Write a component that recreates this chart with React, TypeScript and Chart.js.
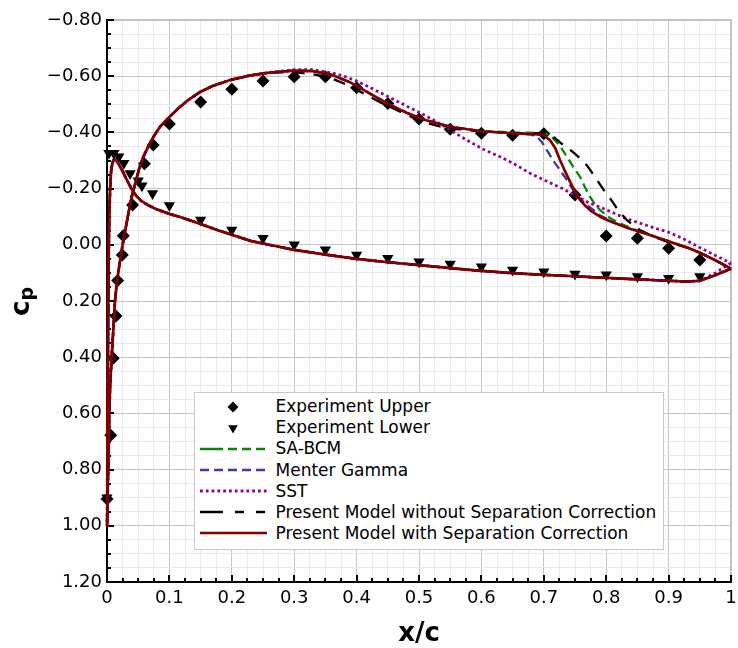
import React, { useEffect, useRef } from 'react';
import { Chart, registerables } from 'chart.js';

Chart.register(...registerables);

// ---------- Experimental data ----------
const xExpUpper = [0, 0.006, 0.010, 0.0144, 0.017, 0.0245, 0.026, 0.041, 0.06, 0.074, 0.1, 0.15, 0.2, 0.25, 0.3, 0.35, 0.4, 0.45, 0.5, 0.55, 0.6, 0.65, 0.7, 0.75, 0.8, 0.85, 0.9, 0.95];
const cpExpUpper = [0.905, 0.678, 0.404, 0.253, 0.127, 0.036, -0.032, -0.142, -0.288, -0.355, -0.43, -0.508, -0.554, -0.583, -0.598, -0.598, -0.559, -0.503, -0.448, -0.411, -0.397, -0.39, -0.395, -0.177, -0.031, -0.023, 0.0125, 0.054];

const xExpLower = [0, 0.003, 0.011, 0.019, 0.027, 0.037, 0.05, 0.056, 0.073, 0.1, 0.15, 0.2, 0.25, 0.3, 0.35, 0.4, 0.45, 0.5, 0.55, 0.6, 0.65, 0.7, 0.75, 0.8, 0.85, 0.9, 0.95];
const cpExpLower = [0.9, -0.326, -0.326, -0.313, -0.29, -0.254, -0.228, -0.21, -0.183, -0.14, -0.088, -0.053, -0.023, 0.0, 0.018, 0.036, 0.048, 0.06, 0.068, 0.078, 0.09, 0.096, 0.104, 0.107, 0.113, 0.119, 0.113];

// ---------- Computed curves ----------
// lower surface, leading edge -> x = 0.95 (shared by all models)
const xLowerSurface = [0, 0.0005, 0.001, 0.0018, 0.0027, 0.0035, 0.005, 0.0065, 0.0085, 0.0112, 0.014, 0.018, 0.025, 0.0316, 0.039, 0.047, 0.055, 0.065, 0.08, 0.1, 0.117, 0.14, 0.16, 0.18, 0.2, 0.23, 0.26, 0.3, 0.35, 0.4, 0.45, 0.5, 0.55, 0.6, 0.65, 0.7, 0.75, 0.8, 0.85, 0.9, 0.93, 0.95];
const cpLowerSurface = [1.0, 0.8, 0.55, 0.3, 0.05, -0.09, -0.2, -0.26, -0.29, -0.305, -0.302, -0.29, -0.262, -0.232, -0.2, -0.174, -0.156, -0.142, -0.126, -0.11, -0.099, -0.082, -0.066, -0.05, -0.036, -0.014, 0.0, 0.018, 0.035, 0.05, 0.062, 0.072, 0.083, 0.093, 0.101, 0.107, 0.112, 0.118, 0.123, 0.128, 0.131, 0.128];
const xLowerTail = [0.975, 1.0];
const cpLowerTail = [0.108, 0.085];
const cpLowerTailSst = [0.1, 0.065];

// upper surface, leading edge -> x = 0.26 (shared by all models)
const xUpperFront = [0, 0.001, 0.002, 0.0035, 0.005, 0.008, 0.0105, 0.0128, 0.016, 0.02, 0.025, 0.03, 0.035, 0.04, 0.045, 0.052, 0.06, 0.068, 0.076, 0.085, 0.1, 0.115, 0.13, 0.15, 0.17, 0.2, 0.23, 0.26];
const cpUpperFront = [1.0, 0.9, 0.8, 0.62, 0.5, 0.38, 0.29, 0.2, 0.13, 0.07, 0.0, -0.06, -0.12, -0.175, -0.215, -0.275, -0.322, -0.358, -0.39, -0.42, -0.455, -0.487, -0.515, -0.545, -0.566, -0.588, -0.603, -0.613];

// upper surface rear parts, per model
const xRearWithCorr = [0.3, 0.33, 0.36, 0.39, 0.42, 0.45, 0.48, 0.51, 0.55, 0.6, 0.65, 0.69, 0.7, 0.71, 0.718, 0.726, 0.734, 0.742, 0.75, 0.758, 0.766, 0.775, 0.79, 0.81, 0.838, 0.87, 0.902, 0.93, 0.95, 0.975, 1.0];
const cpRearWithCorr = [-0.62, -0.618, -0.605, -0.578, -0.54, -0.502, -0.47, -0.444, -0.42, -0.404, -0.397, -0.393, -0.39, -0.372, -0.345, -0.302, -0.262, -0.225, -0.19, -0.16, -0.14, -0.122, -0.1, -0.08, -0.057, -0.035, -0.011, 0.01, 0.028, 0.055, 0.085];

const xRearSaBcm = [0.3, 0.33, 0.36, 0.39, 0.42, 0.45, 0.48, 0.51, 0.55, 0.6, 0.65, 0.7, 0.71, 0.72, 0.728, 0.737, 0.747, 0.758, 0.766, 0.774, 0.782, 0.79, 0.806, 0.822, 0.845, 0.87, 0.902, 0.93, 0.95, 0.975, 1.0];
const cpRearSaBcm = [-0.62, -0.618, -0.605, -0.578, -0.54, -0.502, -0.47, -0.444, -0.42, -0.405, -0.4, -0.398, -0.39, -0.367, -0.345, -0.313, -0.278, -0.242, -0.205, -0.171, -0.145, -0.124, -0.095, -0.076, -0.055, -0.035, -0.011, 0.01, 0.028, 0.055, 0.085];

const xRearMenter = [0.3, 0.33, 0.36, 0.39, 0.42, 0.45, 0.48, 0.51, 0.55, 0.6, 0.65, 0.68, 0.689, 0.697, 0.705, 0.715, 0.726, 0.737, 0.747, 0.758, 0.769, 0.78, 0.79, 0.81, 0.838, 0.87, 0.902, 0.93, 0.95, 0.975, 1.0];
const cpRearMenter = [-0.62, -0.618, -0.605, -0.578, -0.54, -0.502, -0.47, -0.444, -0.42, -0.404, -0.397, -0.392, -0.385, -0.365, -0.337, -0.3, -0.266, -0.23, -0.195, -0.165, -0.142, -0.123, -0.105, -0.082, -0.057, -0.035, -0.011, 0.01, 0.028, 0.055, 0.085];

const xRearSst = [0.3, 0.33, 0.36, 0.38, 0.4, 0.425, 0.448, 0.47, 0.496, 0.51, 0.528, 0.55, 0.576, 0.603, 0.63, 0.651, 0.68, 0.705, 0.73, 0.75, 0.77, 0.8, 0.83, 0.854, 0.883, 0.9, 0.925, 0.95, 0.975, 1.0];
const cpRearSst = [-0.623, -0.623, -0.612, -0.6, -0.583, -0.556, -0.53, -0.505, -0.476, -0.46, -0.438, -0.409, -0.373, -0.34, -0.313, -0.29, -0.252, -0.226, -0.2, -0.176, -0.152, -0.125, -0.095, -0.077, -0.056, -0.045, -0.02, 0.01, 0.038, 0.065];

const xRearNoCorr = [0.2826, 0.31, 0.336, 0.36, 0.379, 0.4, 0.416, 0.44, 0.464, 0.49, 0.518, 0.54, 0.56, 0.6, 0.65, 0.699, 0.715, 0.731, 0.745, 0.758, 0.77, 0.78, 0.79, 0.798, 0.808, 0.817, 0.825, 0.833, 0.843, 0.854, 0.875, 0.897, 0.93, 0.95, 0.975, 1.0];
const cpRearNoCorr = [-0.614, -0.612, -0.605, -0.592, -0.575, -0.552, -0.533, -0.505, -0.48, -0.453, -0.43, -0.418, -0.412, -0.404, -0.398, -0.397, -0.385, -0.355, -0.333, -0.308, -0.28, -0.248, -0.215, -0.189, -0.16, -0.13, -0.108, -0.088, -0.07, -0.053, -0.03, -0.011, 0.01, 0.028, 0.055, 0.085];

// ---------- Axes ----------
const xTicksMajor = [0, 0.1, 0.2, 0.3, 0.4, 0.5, 0.6, 0.7, 0.8, 0.9, 1.0];
const xTickLabels = ['0', '0.1', '0.2', '0.3', '0.4', '0.5', '0.6', '0.7', '0.8', '0.9', '1'];
const yTicksMajor = [-0.8, -0.6, -0.4, -0.2, 0.0, 0.2, 0.4, 0.6, 0.8, 1.0, 1.2];
const yTickLabels = ['\u22120.80', '\u22120.60', '\u22120.40', '\u22120.20', '0.00', '0.20', '0.40', '0.60', '0.80', '1.00', '1.20'];
const xSubdivisions = 4;
const ySubdivisions = 4;
const xTitle = 'x/c';
const yTitleMain = 'c';
const yTitleSub = 'p';

// ---------- Series ----------
const seriesNames = [
  'Experiment Upper',
  'Experiment Lower',
  'SA-BCM',
  'Menter Gamma',
  'SST',
  'Present Model without Separation Correction',
  'Present Model with Separation Correction',
];
const colGreen = '#0a870a';
const colBlue = '#3b3ba2';
const colPurple = '#8e078e';
const colBlack = '#000000';
const colRed = '#800000';

const FONT = '"DejaVu Sans", "Noto Sans", sans-serif';

function zipPts(xs: number[], ys: number[]) {
  return xs.map((x, i) => ({ x, y: ys[i] }));
}

function loopPts(lx: number[], lcp: number[], ux: number[], ucp: number[]) {
  const pts: { x: number; y: number }[] = [];
  for (let i = lx.length - 1; i >= 0; i--) pts.push({ x: lx[i], y: lcp[i] });
  for (let i = 1; i < ux.length; i++) pts.push({ x: ux[i], y: ucp[i] });
  return pts;
}

function buildTicks(major: number[], sub: number) {
  const out: { value: number }[] = [];
  for (let i = 0; i < major.length; i++) {
    out.push({ value: major[i] });
    if (i < major.length - 1) {
      const step = (major[i + 1] - major[i]) / sub;
      for (let k = 1; k < sub; k++) out.push({ value: major[i] + k * step });
    }
  }
  return out;
}

const majorIndex = (arr: number[], v: number) => arr.findIndex((m) => Math.abs(m - v) < 1e-6);

const framePlugin = {
  id: 'frame',
  beforeDatasetsDraw(chart: any) {
    const { ctx, chartArea: a, scales } = chart;
    ctx.save();
    // top and right border
    ctx.strokeStyle = '#c2c2c2';
    ctx.lineWidth = 2;
    ctx.beginPath();
    ctx.moveTo(a.left, a.top);
    ctx.lineTo(a.right, a.top);
    ctx.lineTo(a.right, a.bottom);
    ctx.stroke();
    // inward ticks
    ctx.strokeStyle = '#000';
    ctx.lineWidth = 2;
    ctx.beginPath();
    for (const t of scales.x.ticks) {
      const px = Math.round(scales.x.getPixelForValue(t.value));
      const len = majorIndex(xTicksMajor, t.value) >= 0 ? 7 : 4;
      ctx.moveTo(px, a.bottom);
      ctx.lineTo(px, a.bottom - len);
    }
    for (const t of scales.y.ticks) {
      const py = Math.round(scales.y.getPixelForValue(t.value));
      const len = majorIndex(yTicksMajor, t.value) >= 0 ? 7 : 4;
      ctx.moveTo(a.left, py);
      ctx.lineTo(a.left + len, py);
    }
    ctx.stroke();
    ctx.restore();
  },
  afterDraw(chart: any) {
    const { ctx, chartArea: a } = chart;
    ctx.save();
    ctx.fillStyle = '#000';
    ctx.textBaseline = 'alphabetic';
    // x title
    ctx.font = `bold 26px ${FONT}`;
    ctx.textAlign = 'center';
    ctx.fillText(xTitle, (a.left + a.right) / 2, 641);
    // y title with subscript
    ctx.translate(29, 316);
    ctx.rotate(-Math.PI / 2);
    ctx.textAlign = 'left';
    ctx.font = `bold 26px ${FONT}`;
    ctx.fillText(yTitleMain, 0, 0);
    const w = ctx.measureText(yTitleMain).width;
    ctx.font = `bold 19px ${FONT}`;
    ctx.fillText(yTitleSub, w, 4);
    ctx.restore();
  },
};

const legendCenter0 = 406.7;
const legendStep = 21.1;

function LegendSample({ i }: { i: number }) {
  const y = 10;
  if (i === 0) {
    return <polygon points={`29.5,${y} 35,${y - 5.5} 40.5,${y} 35,${y + 5.5}`} fill="#000" />;
  }
  if (i === 1) {
    return <polygon points={`35,${y + 5.5} 30.2,${y - 2.75} 39.8,${y - 2.75}`} fill="#000" />;
  }
  const cfg: Record<number, { c: string; w: number; d: string }> = {
    2: { c: colGreen, w: 2.4, d: '23 5 9 5 9 5 9 5' },
    3: { c: colBlue, w: 2.4, d: '9 5' },
    4: { c: colPurple, w: 2.8, d: '2.8 3' },
    5: { c: colBlack, w: 2.4, d: '23 12 9 12 9' },
    6: { c: colRed, w: 2.6, d: '' },
  };
  const s = cfg[i];
  return <line x1={2} x2={69} y1={y} y2={y} stroke={s.c} strokeWidth={s.w} strokeDasharray={s.d || undefined} />;
}

export default function App() {
  const ref = useRef<HTMLCanvasElement>(null);

  useEffect(() => {
    document.body.style.margin = '0';
    Chart.defaults.font.family = FONT;
    const lowerX = [...xLowerSurface, ...xLowerTail];
    const lowerCp = [...cpLowerSurface, ...cpLowerTail];
    const lowerCpSst = [...cpLowerSurface, ...cpLowerTailSst];

    const lineBase = { showLine: true, pointRadius: 0, fill: false, tension: 0, clip: false as any, borderJoinStyle: 'round' as const };

    const chart = new Chart(ref.current as HTMLCanvasElement, {
      type: 'scatter',
      data: {
        datasets: [
          {
            ...lineBase,
            label: seriesNames[6],
            data: loopPts(lowerX, lowerCp, [...xUpperFront, ...xRearWithCorr], [...cpUpperFront, ...cpRearWithCorr]),
            borderColor: colRed,
            borderWidth: 2.7,
            order: 0,
          },
          {
            ...lineBase,
            label: seriesNames[5],
            data: loopPts(lowerX, lowerCp, [...xUpperFront, ...xRearNoCorr], [...cpUpperFront, ...cpRearNoCorr]),
            borderColor: colBlack,
            borderWidth: 2.3,
            borderDash: [12, 9],
            order: 1,
          },
          {
            ...lineBase,
            label: seriesNames[4],
            data: loopPts(lowerX, lowerCpSst, [...xUpperFront, ...xRearSst], [...cpUpperFront, ...cpRearSst]),
            borderColor: colPurple,
            borderWidth: 2.8,
            borderDash: [2.8, 3],
            order: 2,
          },
          {
            ...lineBase,
            label: seriesNames[3],
            data: loopPts(lowerX, lowerCp, [...xUpperFront, ...xRearMenter], [...cpUpperFront, ...cpRearMenter]),
            borderColor: colBlue,
            borderWidth: 2.3,
            borderDash: [9, 5],
            order: 3,
          },
          {
            ...lineBase,
            label: seriesNames[2],
            data: loopPts(lowerX, lowerCp, [...xUpperFront, ...xRearSaBcm], [...cpUpperFront, ...cpRearSaBcm]),
            borderColor: colGreen,
            borderWidth: 2.3,
            borderDash: [9, 5],
            order: 4,
          },
          {
            label: seriesNames[0],
            data: zipPts(xExpUpper, cpExpUpper),
            showLine: false,
            pointStyle: 'rectRot',
            pointRadius: 6.5,
            pointBackgroundColor: '#000',
            pointBorderColor: '#000',
            pointBorderWidth: 0,
            clip: false as any,
            order: 5,
          },
          {
            label: seriesNames[1],
            data: zipPts(xExpLower, cpExpLower),
            showLine: false,
            pointStyle: 'triangle',
            rotation: 180,
            pointRadius: 6.5,
            pointBackgroundColor: '#000',
            pointBorderColor: '#000',
            pointBorderWidth: 0,
            clip: false as any,
            order: 6,
          } as any,
        ],
      },
      options: {
        responsive: false,
        animation: false,
        devicePixelRatio: 1,
        events: [],
        layout: { padding: { left: 0, top: 20, right: 7, bottom: 0 } },
        plugins: {
          legend: { display: false },
          tooltip: { enabled: false },
        },
        scales: {
          x: {
            type: 'linear',
            min: 0,
            max: 1,
            afterBuildTicks: (scale: any) => {
              scale.ticks = buildTicks(xTicksMajor, xSubdivisions);
            },
            afterFit: (scale: any) => {
              scale.height = 66;
              scale.paddingLeft = 0;
              scale.paddingRight = 0;
            },
            grid: {
              drawTicks: false,
              color: (c: any) => (c.tick && majorIndex(xTicksMajor, c.tick.value) >= 0 ? '#c6c6c6' : '#e9e9e9'),
              lineWidth: 1,
            },
            border: { display: true, color: '#000', width: 2 },
            ticks: {
              autoSkip: false,
              maxRotation: 0,
              minRotation: 0,
              padding: 6,
              color: '#000',
              font: { size: 18, family: FONT },
              callback: (v: any) => {
                const i = majorIndex(xTicksMajor, Number(v));
                return i >= 0 ? xTickLabels[i] : '';
              },
            },
          },
          y: {
            type: 'linear',
            reverse: true,
            min: -0.8,
            max: 1.2,
            afterBuildTicks: (scale: any) => {
              scale.ticks = buildTicks(yTicksMajor, ySubdivisions);
            },
            afterFit: (scale: any) => {
              scale.width = 107;
              scale.paddingTop = 0;
              scale.paddingBottom = 0;
            },
            grid: {
              drawTicks: false,
              color: (c: any) => (c.tick && majorIndex(yTicksMajor, c.tick.value) >= 0 ? '#c6c6c6' : '#e9e9e9'),
              lineWidth: 1,
            },
            border: { display: true, color: '#000', width: 2 },
            ticks: {
              autoSkip: false,
              padding: 5,
              color: '#000',
              font: { size: 18, family: FONT },
              callback: (v: any) => {
                const i = majorIndex(yTicksMajor, Number(v));
                return i >= 0 ? yTickLabels[i] : '';
              },
            },
          },
        },
      },
      plugins: [framePlugin],
    } as any);
    return () => chart.destroy();
  }, []);

  return (
    <div style={{ position: 'relative', width: 738, height: 648, overflow: 'hidden', background: '#fff' }}>
      <canvas ref={ref} width={738} height={648} style={{ display: 'block', width: 738, height: 648 }} />
      <div
        style={{
          position: 'absolute',
          left: 194,
          top: 392,
          width: 470,
          height: 158,
          border: '1.5px solid #c8c8c8',
          background: '#fff',
          boxSizing: 'border-box',
        }}
      />
      {seriesNames.map((name, i) => {
        const cy = legendCenter0 + i * legendStep;
        return (
          <React.Fragment key={name}>
            <svg
              width={72}
              height={20}
              style={{ position: 'absolute', left: 198, top: cy - 10, overflow: 'visible' }}
            >
              <LegendSample i={i} />
            </svg>
            <div
              style={{
                position: 'absolute',
                left: 275.5,
                top: cy - 10.5,
                height: 21,
                lineHeight: '21px',
                fontFamily: FONT,
                fontSize: 17,
                color: '#000',
                whiteSpace: 'nowrap',
              }}
            >
              {name}
            </div>
          </React.Fragment>
        );
      })}
    </div>
  );
}
